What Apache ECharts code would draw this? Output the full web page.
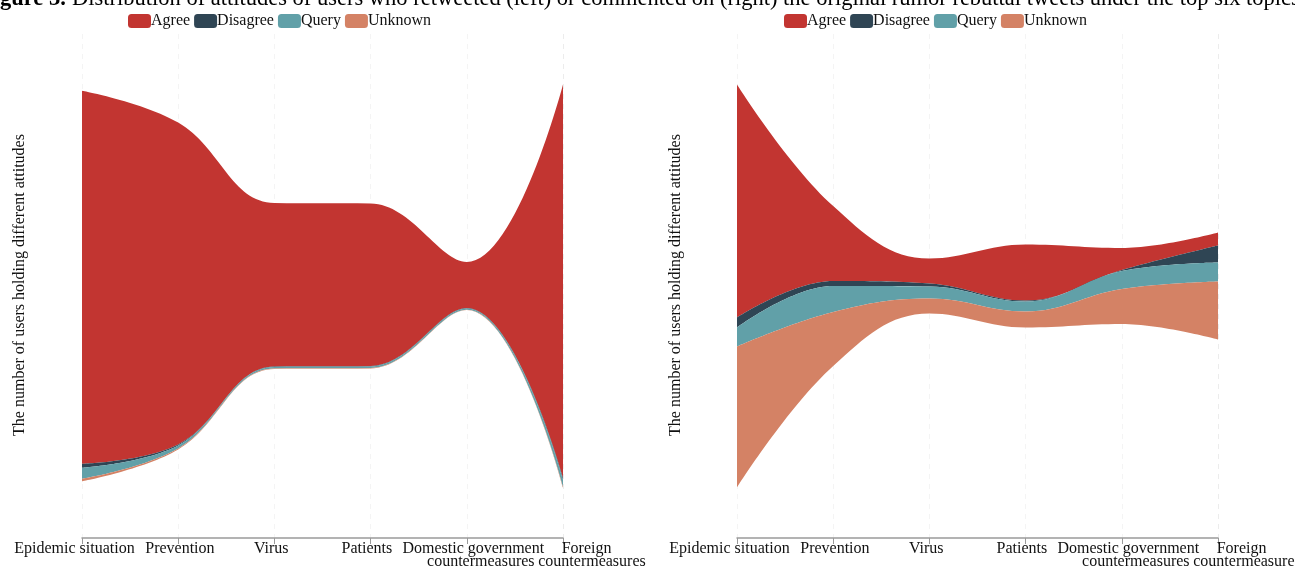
<!DOCTYPE html>
<html>
<head>
<meta charset="utf-8">
<title>Attitudes of users under the top six topics</title>
<script src="https://cdn.jsdelivr.net/npm/echarts@6/dist/echarts.min.js"></script>
<style>
  html, body { margin: 0; padding: 0; background: #fff; }
  #chart { width: 1295px; height: 567px; }
</style>
</head>
<body>
<div id="chart"></div>
<script>
// Topics along the horizontal axis (index 0..5) and their tick labels
const topics = ['Epidemic situation', 'Prevention', 'Virus', 'Patients',
  'Domestic government countermeasures', 'Foreign countermeasures'];
const topicLabels = [
  ['Epidemic situation'],
  ['Prevention'],
  ['Virus'],
  ['Patients'],
  ['Domestic government', 'countermeasures'],
  ['Foreign', 'countermeasures']
];
const attitudes = ['Agree', 'Disagree', 'Query', 'Unknown'];
const palette = ['#c23531', '#2f4554', '#61a0a8', '#d48265'];

// Users who retweeted the rebuttal tweets
const retweetAgree    = [372, 321, 163, 162, 46, 392];
const retweetDisagree = [4, 1, 0.5, 0.5, 0.5, 2];
const retweetQuery    = [11, 3, 1.5, 1.5, 1.2, 7];
const retweetUnknown  = [2.5, 1, 0.5, 0.5, 0.3, 1];

// Users who commented on the rebuttal tweets
const commentAgree    = [233, 75, 25, 56, 22, 13];
const commentDisagree = [10, 5, 3, 1, 1, 17];
const commentQuery    = [19, 26, 12, 10, 18, 19];
const commentUnknown  = [141, 54, 15, 16, 35, 58];

const yTitle = 'The number of users holding different attitudes';
const figureTag = 'Figure 3.';
const figureCaption = 'Distribution of attitudes of users who retweeted (left) or commented on (right) the original rumor rebuttal tweets under the top six topics.';

const serif = "'Liberation Serif', 'Times New Roman', serif";

function riverData(layers) {
  const rows = [];
  layers.forEach(function (values, li) {
    values.forEach(function (v, i) {
      rows.push([i, v, attitudes[li]]);
    });
  });
  return rows;
}

// Per-line label nudge: [horizontal shift, box shrink]
const labelNudges = [
  [[-7.5, 20]],
  [[1.7, 0]],
  [[-3.1, 0]],
  [[-3.7, 0]],
  [[6.5, 0], [14, 0]],
  [[23.6, 0], [29, 0]]
];

const rich = {};
labelNudges.forEach(function (lines, i) {
  lines.forEach(function (n, j) {
    const shift = n[0], shrink = n[1];
    rich['l' + i + '_' + j] = {
      fontFamily: serif, fontSize: 16, color: '#111', lineHeight: 13,
      padding: [0, (-shrink - 2 * shift) / 2, 0, (-shrink + 2 * shift) / 2]
    };
  });
});

function tickLabel(value) {
  const i = Math.round(value);
  // the tiny end tick past the last topic carries no text
  if (Math.abs(value - i) > 1e-3) return '';
  const lines = topicLabels[i];
  if (!lines) return '';
  return lines.map(function (t, j) { return '{l' + i + '_' + j + '|' + t + '}'; }).join('\n');
}

function makeAxis(left, right) {
  return {
    type: 'value',
    min: 0,
    max: topics.length - 1 + 1e-6,
    interval: 1,
    left: left,
    right: right,
    top: 34,
    bottom: 29,
    axisLine: { show: true, lineStyle: { color: '#9a9a9a', width: 1.5 } },
    axisTick: { show: true, length: 6, lineStyle: { color: '#9a9a9a' } },
    axisLabel: {
      margin: 4,
      showMinLabel: true,
      showMaxLabel: false,
      hideOverlap: false,
      formatter: tickLabel,
      rich: rich,
      fontFamily: serif,
      fontSize: 16,
      color: '#111',
      lineHeight: 13
    },
    splitLine: { show: true, lineStyle: { color: '#c8c8c8', type: [5, 5], width: 1 } },
    axisPointer: { show: false }
  };
}

function makeLegend(left) {
  return {
    left: left,
    top: 8,
    icon: 'roundRect',
    itemWidth: 23,
    itemHeight: 14,
    itemGap: 4,
    data: attitudes,
    textStyle: { fontFamily: serif, fontSize: 16, color: '#111', padding: [0, 0, 0, -5] }
  };
}

function makeSeries(axisIndex, layers) {
  return {
    type: 'themeRiver',
    singleAxisIndex: axisIndex,
    color: palette,
    label: { show: false },
    emphasis: { disabled: true },
    data: riverData(layers)
  };
}

const chart = echarts.init(document.getElementById('chart'), null, { renderer: 'canvas' });

chart.setOption({
  animation: false,
  color: palette,
  legend: [makeLegend(123), makeLegend(779)],
  singleAxis: [makeAxis(82, 732), makeAxis(737, 77)],
  series: [
    makeSeries(0, [retweetAgree, retweetDisagree, retweetQuery, retweetUnknown]),
    makeSeries(1, [commentAgree, commentDisagree, commentQuery, commentUnknown])
  ],
  graphic: [
    {
      type: 'text', x: -20, y: 11,
      style: { text: figureTag, fontFamily: serif, fontSize: 22.5, fontWeight: 'bold',
        fill: '#000', align: 'left', verticalAlign: 'bottom' }
    },
    {
      type: 'text', x: 72, y: 11,
      style: { text: figureCaption, fontFamily: serif, fontSize: 22.5,
        fill: '#000', align: 'left', verticalAlign: 'bottom' }
    },
    {
      type: 'text', x: 20, y: 285, rotation: Math.PI / 2,
      style: { text: yTitle, fontFamily: serif, fontSize: 16, fill: '#111',
        align: 'center', verticalAlign: 'middle' }
    },
    {
      type: 'text', x: 676, y: 285, rotation: Math.PI / 2,
      style: { text: yTitle, fontFamily: serif, fontSize: 16, fill: '#111',
        align: 'center', verticalAlign: 'middle' }
    }
  ]
});
</script>
</body>
</html>
